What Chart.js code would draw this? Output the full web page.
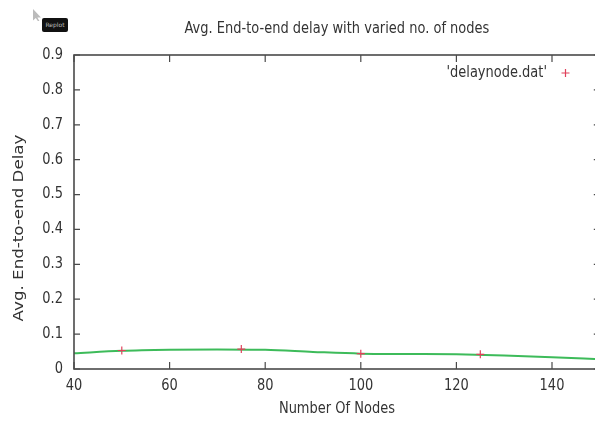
<!DOCTYPE html>
<html>
<head>
<meta charset="utf-8">
<script src="https://cdn.jsdelivr.net/npm/chart.js@4/dist/chart.umd.min.js"></script>
<style>
  html, body { margin: 0; padding: 0; background: #fff; overflow: hidden; }
  #wrap { position: relative; width: 605px; height: 427px; }
  #replot {
    position: absolute; left: 42px; top: 18px; width: 26px; height: 14px;
    background: #111; border-radius: 2px; color: #bbb;
    font: 6px "DejaVu Sans", sans-serif; line-height: 14px; text-align: center;
  }
  #cursor {
    position: absolute; left: 33px; top: 9px; width: 8px; height: 12px;
    background: #bbb;
    clip-path: polygon(0 0, 100% 70%, 55% 70%, 80% 100%, 60% 100%, 35% 75%, 0 95%);
  }
</style>
</head>
<body>
<div id="wrap">
  <canvas id="delayChart" width="605" height="427"></canvas>
  <div id="cursor"></div>
  <div id="replot">Replot</div>
</div>
<script>
// measured points from delaynode.dat
const nodes = [50, 75, 100, 125];
const delay = [0.053, 0.057, 0.044, 0.042];

// smooth green curve
const curveX = [40, 50, 60, 70, 80, 90, 100, 110, 120, 130, 140, 150];
const curveY = [0.045, 0.052, 0.055, 0.056, 0.055, 0.049, 0.044, 0.043, 0.042, 0.039, 0.034, 0.028];

const xTicks = [40, 60, 80, 100, 120, 140];
const yTicks = [0, 0.1, 0.2, 0.3, 0.4, 0.5, 0.6, 0.7, 0.8, 0.9];

const FAMILY = '"DejaVu Sans", sans-serif';
const TEXT = '#333';
const STRETCH = 1.15; // the screenshot is a bit stretched vertically

function drawText(ctx, str, x, y, align, rotated, size) {
  ctx.save();
  ctx.translate(x, y);
  ctx.scale(1, STRETCH);
  if (rotated) ctx.rotate(-Math.PI / 2);
  ctx.font = (size || 13) + 'px ' + FAMILY;
  ctx.fillStyle = TEXT;
  ctx.textAlign = align;
  ctx.textBaseline = 'middle';
  ctx.fillText(str, 0, 0);
  ctx.restore();
}

// gnuplot style frame, inward ticks on all sides, labels and key
const framePlugin = {
  id: 'frame',
  afterDraw(chart) {
    const ctx = chart.ctx;
    const a = chart.chartArea;
    const x = chart.scales.x, y = chart.scales.y;
    ctx.save();
    ctx.strokeStyle = '#4a4a4a';
    ctx.lineWidth = 1.6;
    ctx.strokeRect(a.left, a.top, a.right - a.left, a.bottom - a.top);
    ctx.lineWidth = 1.2;
    ctx.beginPath();
    xTicks.forEach(v => {
      const px = x.getPixelForValue(v);
      ctx.moveTo(px, a.bottom); ctx.lineTo(px, a.bottom - 7);
      ctx.moveTo(px, a.top); ctx.lineTo(px, a.top + 7);
    });
    yTicks.forEach(v => {
      const py = y.getPixelForValue(v);
      ctx.moveTo(a.left, py); ctx.lineTo(a.left + 6, py);
      ctx.moveTo(a.right, py); ctx.lineTo(a.right - 6, py);
    });
    ctx.stroke();
    ctx.restore();

    xTicks.forEach(v => drawText(ctx, String(v), x.getPixelForValue(v), 386, 'center'));
    yTicks.forEach(v => drawText(ctx, v === 0 ? '0' : v.toFixed(1), 63, y.getPixelForValue(v), 'right'));

    drawText(ctx, 'Avg. End-to-end delay with varied no. of nodes', (a.left + a.right) / 2, 29, 'center');
    drawText(ctx, 'Number Of Nodes', (a.left + a.right) / 2, 409, 'center');
    drawText(ctx, 'Avg. End-to-end Delay', 19, 228, 'center', true, 14.5);

    // key
    drawText(ctx, "'delaynode.dat'", 547, 73, 'right');
    ctx.save();
    ctx.strokeStyle = '#e0405a';
    ctx.lineWidth = 1.2;
    ctx.beginPath();
    ctx.moveTo(561.5, 73); ctx.lineTo(569.5, 73);
    ctx.moveTo(565.5, 69); ctx.lineTo(565.5, 77);
    ctx.stroke();
    ctx.restore();
  }
};

new Chart(document.getElementById('delayChart'), {
  type: 'scatter',
  data: {
    datasets: [
      {
        label: 'fit',
        data: curveX.map((v, i) => ({ x: v, y: curveY[i] })),
        showLine: true,
        borderColor: '#3dbb5a',
        borderWidth: 2,
        pointRadius: 0,
        cubicInterpolationMode: 'monotone',
        order: 2
      },
      {
        label: "'delaynode.dat'",
        data: nodes.map((v, i) => ({ x: v, y: delay[i] })),
        pointStyle: 'cross',
        pointRadius: 4,
        borderColor: '#e0405a',
        backgroundColor: '#e0405a',
        borderWidth: 1.2,
        order: 1
      }
    ]
  },
  options: {
    responsive: false,
    animation: false,
    layout: { padding: { left: 74, right: 5, top: 55, bottom: 58 } },
    plugins: {
      legend: { display: false },
      tooltip: { enabled: false },
      title: { display: false }
    },
    scales: {
      x: { type: 'linear', display: false, min: 40, max: 150 },
      y: { type: 'linear', display: false, min: 0, max: 0.9 }
    }
  },
  plugins: [framePlugin]
});
</script>
</body>
</html>
